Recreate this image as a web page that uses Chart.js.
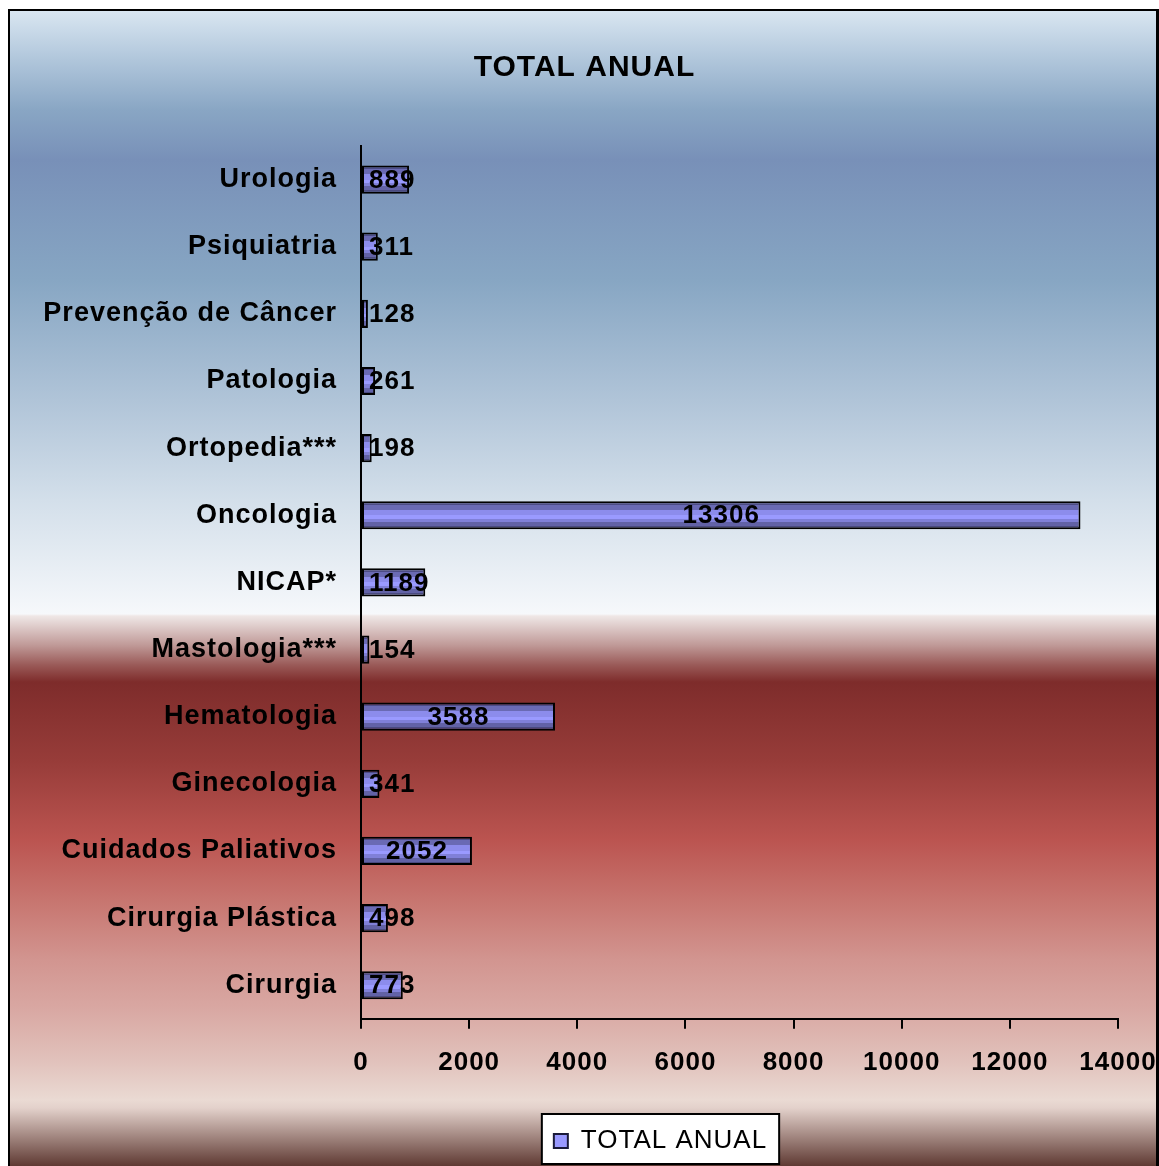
<!DOCTYPE html>
<html>
<head>
<meta charset="utf-8">
<script src="https://cdn.jsdelivr.net/npm/chart.js@4/dist/chart.umd.min.js"></script>
<style>
  html, body { margin: 0; padding: 0; width: 1159px; height: 1166px; overflow: hidden; background: #fff; }
  #bg {
    position: absolute; left: 10px; top: 11px; width: 1146px; height: 1200px;
    background: linear-gradient(to bottom,
      #d9e6f1 0px, #b0c6db 49px, #89a6c4 99px, #7890b8 149px,
      #87a6c3 269px, #b0c4d8 389px, #d3dfea 489px, #f6f8fb 603px,
      #efe7e6 605px, #c09a98 634px, #9a5a58 654px, #7e2c2b 671px,
      #973c39 749px, #bb5450 829px, #c7756f 889px, #d29590 949px,
      #d9a8a3 999px, #e1c1bb 1049px, #eadad3 1089px, #e3d1cb 1097px,
      #5f3a33 1155px, #5f3a33 1200px);
  }
  #frame {
    position: absolute; left: 8px; top: 9px; width: 1146px; height: 1200px;
    border: 2px solid #000; border-right-width: 3px; pointer-events: none;
  }
  canvas { position: absolute; left: 0; top: 0; }
</style>
</head>
<body>
<div id="bg"></div>
<canvas id="c" width="1159" height="1166"></canvas>
<div id="frame"></div>
<script>
// Services and their yearly totals
const categories = [
  'Cirurgia', 'Cirurgia Plástica', 'Cuidados Paliativos', 'Ginecologia',
  'Hematologia', 'Mastologia***', 'NICAP*', 'Oncologia', 'Ortopedia***',
  'Patologia', 'Prevenção de Câncer', 'Psiquiatria', 'Urologia'
];
const totals = [773, 498, 2052, 341, 3588, 154, 1189, 13306, 198, 261, 128, 311, 889];
const seriesName = 'TOTAL ANUAL';
const xTickValues = [0, 2000, 4000, 6000, 8000, 10000, 12000, 14000];

const FONT = '"Liberation Sans", Arial, Helvetica, sans-serif';
const BAR_PCT = 0.42;

// Horizontal stripes inside each bar
const stripes = [
  ['#4c4c86', 0.12], ['#6a6ab4', 0.30], ['#8c8cec', 0.50],
  ['#9a9aff', 0.62], ['#8080d8', 0.74], ['#6262a6', 0.88], ['#4a4a80', 1]
];

function barFill(context) {
  const chart = context.chart;
  const y = chart.scales && chart.scales.y;
  if (context.type !== 'data' || !y || !y.ticks || !y.ticks.length) return '#9999ff';
  const c = y.getPixelForValue(context.dataIndex);
  const band = Math.abs(y.getPixelForValue(1) - y.getPixelForValue(0));
  const h = band * BAR_PCT;
  const top = c - h / 2;
  const g = chart.ctx.createLinearGradient(0, top, 0, top + h);
  let start = 0;
  stripes.forEach(([col, end]) => {
    g.addColorStop(start, col);
    g.addColorStop(end, col);
    start = end;
  });
  return g;
}

// Slightly widened lettering for all chart text
function widen(ctx) { ctx.letterSpacing = '1px'; }
const spacing = {
  id: 'spacing',
  afterInit(chart) { widen(chart.ctx); },
  beforeUpdate(chart) { widen(chart.ctx); },
  beforeDraw(chart) { widen(chart.ctx); }
};

// Legend sits right of centre, under the value axis
const LEGEND_SHIFT = 76;
const legendPlace = {
  id: 'legendPlace',
  afterLayout(chart) {
    const lg = chart.legend;
    if (!lg) return;
    lg.left += LEGEND_SHIFT;
    lg.right += LEGEND_SHIFT;
  }
};

// White framed box behind the legend
const legendBox = {
  id: 'legendBox',
  beforeDraw(chart) {
    const lg = chart.legend;
    if (!lg || !lg.legendHitBoxes || !lg.legendHitBoxes.length) return;
    const hb = lg.legendHitBoxes[0];
    const { ctx } = chart;
    const l = hb.left - 12, t = hb.top - 14, r = hb.left + hb.width + 12, b = hb.top + hb.height + 10;
    ctx.save();
    ctx.fillStyle = '#fff';
    ctx.fillRect(l, t, r - l, b - t);
    ctx.strokeStyle = '#000';
    ctx.lineWidth = 2;
    ctx.strokeRect(l, t, r - l, b - t);
    ctx.restore();
  }
};

// Value written on each bar, kept clear of the axis for short bars
const valueLabels = {
  id: 'valueLabels',
  afterDatasetsDraw(chart) {
    const { ctx } = chart;
    const meta = chart.getDatasetMeta(0);
    const x0 = chart.scales.x.getPixelForValue(0);
    ctx.save();
    ctx.font = 'bold 26px ' + FONT;
    ctx.fillStyle = '#000';
    ctx.textAlign = 'center';
    ctx.textBaseline = 'middle';
    meta.data.forEach((bar, i) => {
      const txt = String(totals[i]);
      const w = ctx.measureText(txt).width;
      const mid = (bar.base + bar.x) / 2;
      const x = Math.max(mid, x0 + 8 + w / 2);
      ctx.fillText(txt, x, bar.y + 1);
    });
    ctx.restore();
  }
};

new Chart(document.getElementById('c'), {
  type: 'bar',
  data: {
    labels: categories,
    datasets: [{
      label: seriesName,
      data: totals,
      backgroundColor: barFill,
      borderColor: '#000',
      borderWidth: 2,
      borderSkipped: false,
      barPercentage: BAR_PCT,
      categoryPercentage: 1
    }]
  },
  options: {
    indexAxis: 'y',
    responsive: false,
    devicePixelRatio: 1,
    animation: false,
    layout: { padding: { top: 0, left: 10, right: 0, bottom: 2 } },
    scales: {
      x: {
        min: 0, max: 14000,
        afterBuildTicks(scale) { scale.ticks = xTickValues.map(v => ({ value: v })); },
        afterFit(scale) { scale.paddingLeft = 0; scale.paddingRight = 41; scale.height += 22; },
        grid: { drawOnChartArea: false, drawTicks: true, tickLength: 10, color: '#000', lineWidth: 2 },
        border: { display: true, color: '#000', width: 2 },
        ticks: { color: '#000', padding: 18, maxRotation: 0, autoSkip: false,
                 callback: v => String(v),
                 font: { family: FONT, size: 26, weight: 'bold' } }
      },
      y: {
        reverse: true,
        afterFit(scale) { scale.width = 351; scale.paddingTop = 0; scale.paddingBottom = 0; },
        grid: { display: false, drawTicks: false },
        border: { display: true, color: '#000', width: 2 },
        ticks: { color: '#000', padding: 24, autoSkip: false,
                 font: { family: FONT, size: 27, weight: 'bold' } }
      }
    },
    plugins: {
      title: {
        display: true, text: seriesName, color: '#000',
        font: { family: FONT, size: 30, weight: 'bold', lineHeight: 1 },
        padding: { top: 53, bottom: 63 }
      },
      legend: {
        display: true, position: 'bottom',
        labels: {
          color: '#000', boxWidth: 14, boxHeight: 14, padding: 10,
          font: { family: FONT, size: 26 },
          generateLabels(chart) {
            return [{ text: seriesName, fillStyle: '#9999ff', strokeStyle: '#1a1a3a',
                      lineWidth: 2, datasetIndex: 0, hidden: false }];
          }
        }
      },
      tooltip: { enabled: false }
    }
  },
  plugins: [spacing, legendPlace, legendBox, valueLabels]
});
</script>
</body>
</html>
